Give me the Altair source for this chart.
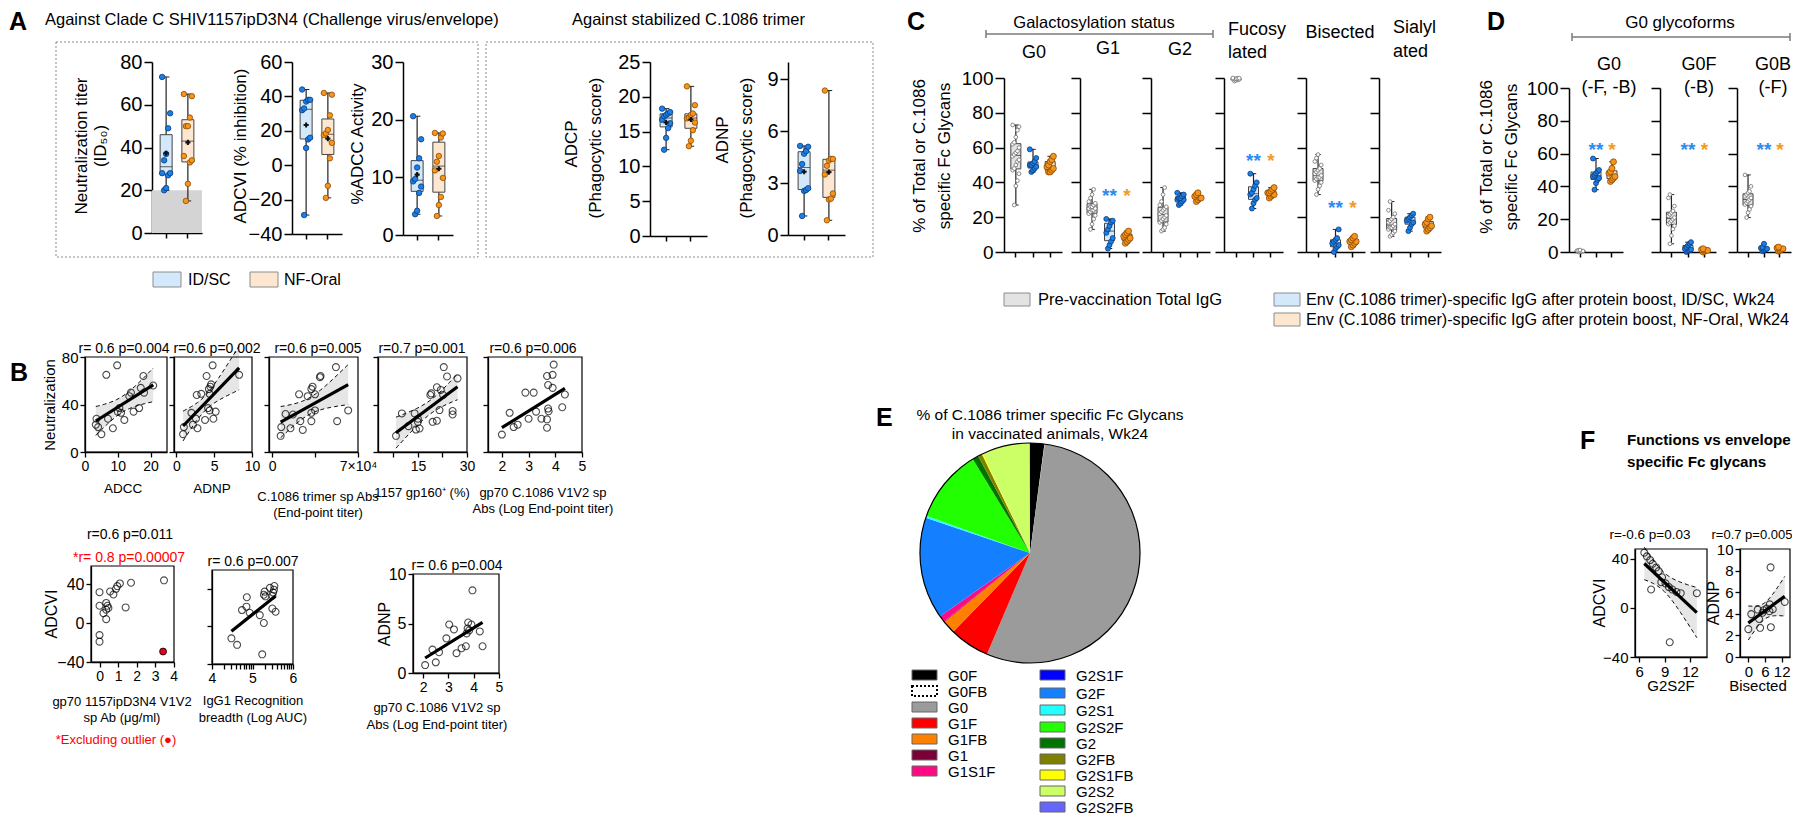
import numpy as np
import pandas as pd
import altair as alt

FONT = "Liberation Sans"
W, H = 1784, 813
ORG = 8


def X(v):
    return v - ORG


def Y(v):
    return v - ORG


# ------------------------------------------------------------------ data
GROUPS2 = ["ID/SC", "NF-Oral"]
GROUPS3 = ["Pre", "ID/SC", "NF-Oral"]

# Panel A (ID/SC, NF-Oral)
neut_id = [20, 21, 27, 28, 28, 34, 37, 49, 56, 73]
neut_nf = [15, 23, 33, 34, 36, 50, 50, 54, 64, 65]
adcvi_id = [-29, 10, 15, 16, 32, 33, 37, 38, 38, 44]
adcvi_nf = [-19, -12, 4, 13, 17.5, 18.5, 20.5, 29, 41, 42]
adcc_id = [3.6, 4.2, 7.3, 8.4, 9.3, 9.7, 11.7, 13.3, 16.6, 20.6]
adcc_nf = [3.3, 5.2, 6.6, 9.9, 11.2, 12.7, 13.7, 16.9, 17.6, 17.7]
adcp_id = [12.4, 14.1, 15.5, 16.2, 16.7, 17.2, 17.4, 17.6, 17.8, 18.3]
adcp_nf = [12.9, 13.7, 15.2, 16.3, 16.9, 17.0, 17.4, 17.6, 18.8, 21.5]
adnp_id = [1.1, 2.55, 2.6, 2.7, 3.7, 4.1, 4.7, 4.85, 5.1, 5.15]
adnp_nf = [0.85, 2.05, 2.1, 2.4, 3.5, 4.0, 4.3, 4.4, 4.4, 8.35]

# Panel C (Pre, ID/SC, NF-Oral)
c_g0 = [[27, 38, 41, 45, 47, 48, 50, 52, 53, 55, 56, 57, 58, 60, 62, 63, 66, 70, 72, 73],
        [46, 47, 48, 49, 50, 50, 51, 52, 54, 59],
        [46, 46, 47, 48, 49, 50, 52, 53, 55]]
c_g1 = [[13, 16, 19, 21, 22, 23, 24, 24, 25, 25, 26, 26, 27, 28, 29, 31, 33, 36],
        [2, 4, 6, 8, 11, 13, 15, 17, 18, 19],
        [5, 6, 7, 8, 9, 10, 11, 12]]
c_g2 = [[12, 13, 14, 16, 17, 18, 19, 20, 21, 22, 23, 24, 25, 26, 27, 29, 33, 37],
        [27, 28, 29, 30, 30, 31, 31, 32, 33, 34],
        [29, 30, 31, 31, 32, 33, 34]]
c_fuc = [[98.2, 98.6, 99.0, 99.2, 99.4, 99.5, 99.6, 99.8, 99.9, 100],
         [25, 28, 30, 31, 33, 34, 36, 38, 40, 45],
         [31, 32, 33, 33, 34, 34, 35, 36, 37]]
c_bis = [[33, 36, 38, 40, 41, 42, 43, 43, 44, 45, 46, 47, 48, 50, 52, 54, 56],
         [0, 2, 3, 4, 5, 6, 7, 8, 13],
         [3, 4, 5, 6, 6, 7, 8, 9]]
c_sia = [[9, 10, 11, 12, 13, 14, 14, 15, 16, 17, 18, 19, 20, 22, 24, 29],
         [12, 14, 16, 17, 18, 19, 20, 21, 22],
         [12, 13, 14, 15, 16, 17, 19, 20]]

# Panel D
d_g0 = [[0, 0.2, 0.4, 0.6, 0.8, 1.0, 1.2],
        [38, 42, 44, 45, 46, 47, 48, 49, 50, 57],
        [43, 44, 45, 46, 48, 49, 51, 55]]
d_g0f = [[5, 10, 14, 16, 17, 18, 19, 20, 21, 22, 23, 24, 25, 28, 33, 35],
         [0, 0.5, 1, 1.5, 2, 3, 4, 5, 6],
         [0, 0.5, 1, 1, 1.5, 2]]
d_g0b = [[21, 24, 26, 28, 29, 30, 31, 32, 33, 34, 35, 36, 37, 40, 47],
         [0.5, 1, 1.5, 2, 2.5, 3, 5],
         [0.5, 1, 1.5, 2, 2.5, 3]]

# Panel B, row 1 (y = neutralization)
b1_x = [3.5, 3.3, 4.0, 5.0, 7.0, 6.5, 8.5, 9.8, 10.0, 10.5, 11.0, 12.0, 13.5, 14.0, 14.8, 16.5, 17.0, 18.0, 17.8, 20.8]
b1_y = [28, 23, 21, 15, 28, 65, 20, 73, 34, 37, 33, 27, 47, 50, 34, 37, 54, 50, 64, 56]
b2_x = [0.9, 1.0, 2.0, 2.2, 2.6, 2.7, 2.8, 3.3, 3.8, 4.0, 4.2, 4.4, 4.4, 4.5, 4.6, 4.8, 4.9, 5.2, 8.3, 4.3]
b2_y = [15, 21, 33, 23, 28, 48, 20, 49, 27, 64, 37, 35, 49, 55, 57, 73, 28, 34, 65, 53]
b3_x = [7000, 7500, 11000, 17000, 15000, 22000, 23000, 25000, 29000, 32000, 33000, 32000, 32000, 35000,
        35000, 39000, 39500, 52000, 53000, 62000]
b3_y = [13.6, 21, 32, 31.6, 20, 48.6, 26, 18.6, 47, 53, 55, 33, 26, 35, 48.6, 63, 64, 71.5, 26, 35]
b4_x = [8.3, 10.1, 12.1, 14.0, 14.4, 15.5, 15.0, 15.0, 18.8, 19.1, 19.5, 20.8, 20.8, 21.6, 22.0, 22.7,
        22.9, 23.9, 25.6, 25.6, 27.1]
b4_y = [13.6, 32.5, 21.8, 32.5, 18.9, 19.8, 25.4, 28, 48, 49.4, 25.4, 26.3, 54.5, 35.3, 52.3, 48, 71.5,
        63.6, 34.5, 31.6, 62]
b5_x = [2.0, 2.29, 2.44, 2.59, 2.88, 3.19, 3.0, 3.28, 3.48, 3.69, 3.69, 3.73, 3.75, 3.73, 3.9, 3.9, 3.94,
        4.26, 4.36, 3.69]
b5_y = [14.7, 33, 21, 23, 50, 50, 28, 34, 28, 27.5, 20.4, 36.6, 34.3, 56.4, 54, 65, 73.6, 37.7, 48.4, 64]

# Panel B, row 2
r1_x = [0, 0, 0, 0, 0.21, 0.36, 0.36, 0.36, 0.43, 0.48, 0.57, 0.75, 0.89, 0.96, 1.1, 1.41, 1.7, 3.48]
r1_y = [32, 18, -12.2, -19, 10.4, 13.9, 4.2, 20.9, 18, 15.7, 32.7, 29.6, 35.5, 38.3, 41, 16.3, 41.7, 44.2]
r1_out_x = [3.43]
r1_out_y = [-29.2]
r2_x = [4.48, 4.62, 4.74, 4.85, 4.86, 4.93, 5.18, 5.28, 5.24, 5.28, 5.30, 5.32, 5.43, 5.49, 5.51, 5.53,
        5.54, 5.49, 5.57]
r2_y = [-12.7, -19.6, 17.4, 21, 31, 14.5, 12, 3.6, -29.7, 33.7, 37, 32, 41, 32.6, 36, 39, 43, 19, 15.6]
r3_x = [2.08, 2.37, 2.5, 2.63, 2.92, 3.03, 3.22, 3.32, 3.52, 3.69, 3.72, 3.76, 3.78, 3.82, 3.91, 3.95,
        4.24, 4.35]
r3_y = [0.8, 2.36, 1.08, 2.1, 3.5, 4.9, 4.4, 2.0, 2.5, 2.7, 4.0, 4.5, 5.1, 4.3, 4.9, 8.35, 4.2, 2.7]

# Panel E
glycans = ["G0F", "G0FB", "G0", "G1F", "G1FB", "G1", "G1S1F", "G2S1F", "G2F", "G2S1", "G2S2F", "G2",
           "G2FB", "G2S1FB", "G2S2", "G2S2FB"]
glycan_pct = [2.1, 0.05, 54.2, 5.9, 1.9, 0.1, 0.9, 0.05, 14.9, 0.3, 10.8, 0.9, 0.6, 0.15, 7.0, 0.05]
glycan_col = ["#000000", "#ffffff", "#9b9b9b", "#ff0000", "#ff8000", "#7a0037", "#ff0a85", "#0000ff",
              "#1480ff", "#22ffff", "#22ff00", "#007300", "#808000", "#ffff00", "#ccff66", "#6666ff"]

# Panel F
fl_x = [6.6, 6.9, 7.3, 7.6, 8.0, 8.3, 8.7, 9.1, 9.5, 9.9, 10.4, 10.9, 7.4, 8.6, 9.6, 12.8]
fl_y = [45, 42, 39, 36, 33, 30, 25, 20, 17, 15, 13, 12, 15, 21, -28, 12]
fr_x = [0, 1.05, 3.4, 3.87, 4.25, 5.1, 5.5, 6.6, 7.6, 7.7, 8.1, 8.8, 13.1, 8.0]
fr_y = [2.58, 3.97, 4.39, 3.52, 2.7, 4.1, 4.33, 4.48, 4.24, 4.88, 2.76, 4.42, 5.1, 8.3]

# ------------------------------------------------------------------ helpers
DUMMY = pd.DataFrame({"d": [0]})
L = []
AX = dict(domainColor="black", tickColor="black", labelColor="black", labelFont=FONT, grid=False, title=None)

BOX_FILL = {"Pre": "#e3e3e3", "ID/SC": "#d3e8fb", "NF-Oral": "#fde7d1"}
PT_FILL = {"Pre": "#ffffff", "ID/SC": "#1b7fe8", "NF-Oral": "#f7941d"}
PT_STROKE = {"Pre": "#6e6e6e", "ID/SC": "#0b3a78", "NF-Oral": "#8c4a00"}


def text(s, x, y, size=15, align="center", weight="normal", color="black", angle=0, baseline="middle"):
    mk = dict(text=s, fontSize=size, align=align, font=FONT, fontWeight=weight, color=color, baseline=baseline)
    if angle:
        mk["angle"] = angle
    L.append(alt.Chart(DUMMY).mark_text(**mk).encode(x=alt.value(X(x)), y=alt.value(Y(y))))


def rect(x0, y0, x1, y1, fill, stroke="#8c8c8c", sw=1.0, dash=None, fop=1.0):
    mk = dict(fill=fill, stroke=stroke, strokeWidth=sw, fillOpacity=fop)
    if dash:
        mk["strokeDash"] = dash
    L.append(alt.Chart(DUMMY).mark_rect(**mk).encode(
        x=alt.value(X(x0)), x2=alt.value(X(x1)), y=alt.value(Y(y0)), y2=alt.value(Y(y1))))


def hrule(x0, x1, y, color="#7a7a7a", sw=1.5):
    L.append(alt.Chart(DUMMY).mark_rule(color=color, strokeWidth=sw).encode(
        x=alt.value(X(x0)), x2=alt.value(X(x1)), y=alt.value(Y(y))))


def vrule(x, y0, y1, color="#7a7a7a", sw=1.5):
    L.append(alt.Chart(DUMMY).mark_rule(color=color, strokeWidth=sw).encode(
        x=alt.value(X(x)), y=alt.value(Y(y0)), y2=alt.value(Y(y1))))


def bracket(x0, x1, y):
    hrule(x0, x1, y)
    vrule(x0, y - 4, y + 4)
    vrule(x1, y - 4, y + 4)


def box_panel(groups, data, x0, x1, ytop, ybot, ydom, yticks, ylabels=True, pad=0.15, bsize=11,
              psize=None, jit=2.0, labsize=19, ticklen=8, mean=False, stars=None, shade=None):
    rows = [{"g": g, "v": v} for g, vs in zip(groups, data) for v in vs]
    df = pd.DataFrame(rows)
    n = len(groups)
    step = (x1 - x0) / (n + 2 * pad)
    xs = alt.Scale(type="band", domain=groups, range=[X(x0), X(x1)], paddingInner=0, paddingOuter=pad)
    ys = alt.Scale(domain=ydom, range=[Y(ybot), Y(ytop)], nice=False, zero=False)
    xaxis = alt.Axis(orient="bottom", offset=Y(ybot) - H, labels=False, tickSize=5, tickWidth=1.5,
                     domainWidth=1.5, **AX)
    yaxis = alt.Axis(orient="left", offset=-X(x0), values=yticks, labels=ylabels, tickSize=ticklen,
                     tickWidth=1.5, domainWidth=1.5, labelFontSize=labsize, labelPadding=2,
                     labelOverlap=False, **AX)
    if shade is not None:
        L.append(alt.Chart(DUMMY).mark_rect(color="#d4d4d4").encode(
            x=alt.value(X(x0)), x2=alt.value(X(x1)),
            y=alt.YDatum(shade[0], type="quantitative", scale=ys, axis=None),
            y2=alt.Y2Datum(shade[1])))
    L.append(alt.Chart(df).mark_boxplot(
        extent="min-max", size=bsize,
        box={"stroke": "#444444", "strokeWidth": 1},
        median={"color": "#222222", "strokeWidth": 1.3},
        rule={"color": "#222222", "strokeWidth": 1.2},
        ticks={"color": "#222222", "size": bsize * 0.55}).encode(
        x=alt.X("g:N", scale=xs, axis=xaxis),
        y=alt.Y("v:Q", scale=ys, axis=yaxis),
        color=alt.Color("g:N", scale=alt.Scale(domain=groups, range=[BOX_FILL[g] for g in groups]),
                        legend=None)))
    if psize is None:
        psize = {g: 30 for g in groups}
    L.append(alt.Chart(df).transform_window(rn="row_number()", groupby=["g"]).transform_calculate(
        j="(datum.rn % 5) - 2").mark_circle(opacity=1, strokeWidth=0.8).encode(
        x=alt.X("g:N", scale=xs, axis=None),
        xOffset=alt.XOffset("j:Q", scale=alt.Scale(domain=[-2, 2],
                                                   range=[step / 2 - 2 * jit, step / 2 + 2 * jit])),
        y=alt.Y("v:Q", scale=ys, axis=None),
        fill=alt.Fill("g:N", scale=alt.Scale(domain=groups, range=[PT_FILL[g] for g in groups]), legend=None),
        stroke=alt.Stroke("g:N", scale=alt.Scale(domain=groups, range=[PT_STROKE[g] for g in groups]),
                          legend=None),
        size=alt.Size("g:N", scale=alt.Scale(domain=groups, range=[psize[g] for g in groups]), legend=None)))
    if mean:
        L.append(alt.Chart(df).mark_point(shape="cross", size=26, filled=True, color="#111111").encode(
            x=alt.X("g:N", scale=xs, axis=None),
            y=alt.Y("mean(v):Q", scale=ys, axis=None)))
    if stars is not None:
        sdf = pd.DataFrame([{"g": "ID/SC", "y": stars, "t": "**", "c": "#2b8cf0"},
                            {"g": "NF-Oral", "y": stars, "t": "*", "c": "#f59a23"}])
        L.append(alt.Chart(sdf).mark_text(fontSize=19, font=FONT, fontWeight="bold", baseline="middle",
                                           dy=5).encode(
            x=alt.X("g:N", scale=xs, axis=None),
            y=alt.Y("y:Q", scale=ys, axis=None),
            text="t:N",
            color=alt.Color("c:N", scale=None)))


T_TABLE = {10: 2.228, 11: 2.201, 12: 2.179, 13: 2.160, 14: 2.145, 15: 2.131, 16: 2.120, 17: 2.110,
           18: 2.101, 19: 2.093, 20: 2.086}


def ci_band(xv, yv, n=40):
    x = np.asarray(xv, float)
    y = np.asarray(yv, float)
    nn = len(x)
    b, a = np.polyfit(x, y, 1)
    s = np.sqrt(np.sum((y - (a + b * x)) ** 2) / (nn - 2))
    xm = x.mean()
    sxx = np.sum((x - xm) ** 2)
    t = T_TABLE.get(nn - 2, 2.1)
    xg = np.linspace(x.min(), x.max(), n)
    se = s * np.sqrt(1.0 / nn + (xg - xm) ** 2 / sxx)
    fit = a + b * xg
    return pd.DataFrame({"xg": xg, "lo": fit - t * se, "hi": fit + t * se})


def scatter(xv, yv, x0, x1, ytop, ybot, xdom, ydom, xticks, yticks, ylabels=True, xexpr=None,
            line=True, band=True, labsize=14, ylabsize=15, psize=48, red=None):
    df = pd.DataFrame({"x": xv, "y": yv})
    xs = alt.Scale(domain=xdom, range=[X(x0), X(x1)], nice=False, zero=False)
    ys = alt.Scale(domain=ydom, range=[Y(ybot), Y(ytop)], nice=False, zero=False)
    xa = dict(AX, orient="bottom", offset=Y(ybot) - H, values=xticks, labelFontSize=labsize, tickSize=5,
              tickWidth=1.3, domainWidth=1.3, labelPadding=2, labelFlush=False, labelOverlap=False)
    if xexpr:
        xa["labelExpr"] = xexpr
    ya = dict(AX, orient="left", offset=-X(x0), values=yticks, labels=ylabels, labelFontSize=ylabsize,
              tickSize=5, tickWidth=1.3, domainWidth=1.3, labelPadding=2, labelOverlap=False)
    if band:
        bdf = ci_band(xv, yv)
        L.append(alt.Chart(bdf).mark_area(color="#e6e6e6").encode(
            x=alt.X("xg:Q", scale=xs, axis=None), y=alt.Y("lo:Q", scale=ys, axis=None), y2="hi:Q"))
        for f in ["lo", "hi"]:
            L.append(alt.Chart(bdf).mark_line(color="black", strokeWidth=1, strokeDash=[4, 3]).encode(
                x=alt.X("xg:Q", scale=xs, axis=None), y=alt.Y(f + ":Q", scale=ys, axis=None)))
    L.append(alt.Chart(DUMMY).mark_rect(fillOpacity=0, stroke="black", strokeWidth=1.2).encode(
        x=alt.XDatum(xdom[0], type="quantitative", scale=xs, axis=None),
        x2=alt.X2Datum(xdom[1]),
        y=alt.YDatum(ydom[0], type="quantitative", scale=ys, axis=None),
        y2=alt.Y2Datum(ydom[1])))
    L.append(alt.Chart(df).mark_point(filled=False, color="black", size=psize, strokeWidth=1.1).encode(
        x=alt.X("x:Q", scale=xs, axis=alt.Axis(**xa)),
        y=alt.Y("y:Q", scale=ys, axis=alt.Axis(**ya))))
    if line:
        L.append(alt.Chart(df).transform_regression("x", "y").mark_line(color="black", strokeWidth=3.2).encode(
            x=alt.X("x:Q", scale=xs, axis=None), y=alt.Y("y:Q", scale=ys, axis=None)))
    if red is not None:
        rdf = pd.DataFrame({"x": red[0], "y": red[1]})
        L.append(alt.Chart(rdf).mark_point(filled=True, fill="#e8001c", stroke="black", strokeWidth=0.8,
                                           size=psize, opacity=1).encode(
            x=alt.X("x:Q", scale=xs, axis=None), y=alt.Y("y:Q", scale=ys, axis=None)))


# ------------------------------------------------------------------ Panel A
text("A", 9, 22, 25, "left", "bold")
text("Against Clade C SHIV1157ipD3N4 (Challenge virus/envelope)", 45, 20, 16.5, "left")
text("Against stabilized C.1086 trimer", 572, 20, 16.5, "left")
rect(56, 42, 478, 257, "#ffffff", stroke="#8a8a8a", sw=1, dash=[2, 2], fop=0)
rect(486, 42, 873, 257, "#ffffff", stroke="#8a8a8a", sw=1, dash=[2, 2], fop=0)

box_panel(GROUPS2, [neut_id, neut_nf], 152, 202, 62, 233, [0, 80], [0, 20, 40, 60, 80], mean=True,
          shade=(0, 20), labsize=20, bsize=12)
box_panel(GROUPS2, [adcvi_id, adcvi_nf], 292, 342, 62, 234, [-40, 60], [-40, -20, 0, 20, 40, 60], mean=True,
          labsize=20, bsize=12)
box_panel(GROUPS2, [adcc_id, adcc_nf], 403, 453, 62, 235, [0, 30], [0, 10, 20, 30], mean=True, labsize=20,
          bsize=12)
box_panel(GROUPS2, [adcp_id, adcp_nf], 650, 707, 62, 236, [0, 25], [0, 5, 10, 15, 20, 25], mean=True,
          labsize=20, bsize=12)
box_panel(GROUPS2, [adnp_id, adnp_nf], 788, 845, 62, 235, [0, 10], [0, 3, 6, 9], mean=True, labsize=20,
          bsize=12)

text("Neutralization titer", 82, 146, 17, angle=270)
text("(ID₅₀)", 101, 146, 17, angle=270)
text("ADCVI  (% inhibition)", 241, 146, 17, angle=270)
text("%ADCC Activity", 358, 144, 17, angle=270)
text("ADCP", 572, 144, 17, angle=270)
text("(Phagocytic score)", 596, 148, 17, angle=270)
text("ADNP", 723, 140, 17, angle=270)
text("(Phagocytic score)", 747, 148, 17, angle=270)

rect(153, 272, 181, 287, BOX_FILL["ID/SC"])
text("ID/SC", 188, 280, 16, "left")
rect(250, 272, 278, 287, BOX_FILL["NF-Oral"])
text("NF-Oral", 284, 280, 16, "left")

# ------------------------------------------------------------------ Panel C
text("C", 907, 22, 25, "left", "bold")
text("Galactosylation status", 1094, 23, 16.5)
bracket(986, 1213, 34)
text("G0", 1034, 53, 18)
text("G1", 1108, 49, 18)
text("G2", 1180, 50, 18)
text("Fucosy", 1228, 30, 18, "left")
text("lated", 1228, 53, 18, "left")
text("Bisected", 1340, 33, 18)
text("Sialyl", 1393, 28, 18, "left")
text("ated", 1393, 52, 18, "left")
text("% of Total or C.1086", 920, 156, 17, angle=270)
text("specific Fc Glycans", 945, 156, 17, angle=270)

CPS = {"Pre": 14, "ID/SC": 36, "NF-Oral": 36}
YT100 = [0, 20, 40, 60, 80, 100]
c_specs = [(c_g0, 1004, 1062, None, True), (c_g1, 1080, 1139, 35, False), (c_g2, 1151, 1210, None, False),
           (c_fuc, 1224, 1283, 55, False), (c_bis, 1306, 1365, 28, False), (c_sia, 1379, 1441, None, False)]
for dat, a0, a1, st, lab in c_specs:
    box_panel(GROUPS3, dat, a0, a1, 78, 252, [0, 100], YT100, ylabels=lab, pad=0.19, bsize=10, psize=CPS,
              jit=1.6, labsize=19, ticklen=9, stars=st)

rect(1004, 293, 1030, 306, BOX_FILL["Pre"])
text("Pre-vaccination Total IgG", 1038, 300, 16.5, "left")
rect(1274, 293, 1300, 306, BOX_FILL["ID/SC"])
text("Env (C.1086 trimer)-specific IgG after protein boost, ID/SC, Wk24", 1306, 300, 16.2, "left")
rect(1274, 313, 1300, 326, BOX_FILL["NF-Oral"])
text("Env (C.1086 trimer)-specific IgG after protein boost, NF-Oral, Wk24", 1306, 320, 16.2, "left")

# ------------------------------------------------------------------ Panel D
text("D", 1487, 22, 25, "left", "bold")
text("G0 glycoforms", 1680, 23, 17)
bracket(1572, 1790, 37)
text("G0", 1609, 65, 18)
text("(-F, -B)", 1609, 88, 18)
text("G0F", 1699, 65, 18)
text("(-B)", 1699, 88, 18)
text("G0B", 1773, 65, 18)
text("(-F)", 1773, 88, 18)
text("% of Total or C.1086", 1487, 157, 17, angle=270)
text("specific Fc Glycans", 1512, 157, 17, angle=270)
d_specs = [(d_g0, 1569, 1623, True), (d_g0f, 1660, 1716, False), (d_g0b, 1737, 1791, False)]
for dat, a0, a1, lab in d_specs:
    box_panel(GROUPS3, dat, a0, a1, 88, 252, [0, 100], YT100, ylabels=lab, pad=0.19, bsize=10, psize=CPS,
              jit=1.5, labsize=19, ticklen=9, stars=65)

# ------------------------------------------------------------------ Panel B
text("B", 10, 373, 25, "left", "bold")
text("Neutralization", 50, 405, 15, angle=270)
YN = [0, 40, 80]
scatter(b1_x, b1_y, 85, 167, 357, 452, [0, 25], [0, 80], [0, 10, 20], YN)
scatter(b2_x, b2_y, 174, 252, 357, 452, [-0.3, 10], [0, 80], [0, 5, 10], YN, ylabels=False)
scatter(b3_x, b3_y, 269, 358, 357, 452, [-2500, 70000], [0, 80], [0, 35000, 70000], YN, ylabels=False,
        xexpr="datum.value == 0 ? '0' : (datum.value == 70000 ? '7×10⁴' : '')")
scatter(b4_x, b4_y, 378, 467, 357, 452, [2.8, 30], [0, 80], [7.5, 15, 22.5, 30], YN, ylabels=False,
        xexpr="(datum.value == 15 || datum.value == 30) ? datum.label : ''")
scatter(b5_x, b5_y, 488, 582, 357, 452, [1.48, 5], [0, 80], [2, 3, 4, 5], YN, ylabels=False, band=False)

text("r= 0.6  p=0.004", 124, 349, 14)
text("r=0.6  p=0.002", 217, 349, 14)
text("r=0.6  p=0.005", 318, 349, 14)
text("r=0.7  p=0.001", 422, 349, 14)
text("r=0.6      p=0.006", 533, 349, 14)
text("ADCC", 123, 489, 13.5)
text("ADNP", 212, 489, 13.5)
text("C.1086 trimer sp Abs", 318, 497, 13)
text("(End-point titer)", 318, 513, 13)
text("1157 gp160⁺ (%)", 422, 493, 13)
text("gp70 C.1086 V1V2 sp", 543, 493, 13)
text("Abs (Log End-point titer)", 543, 509, 13)

# row 2
log_ticks = [4.0] + [4 + np.log10(k) for k in range(2, 10)] + [5.0] + [5 + np.log10(k) for k in range(2, 10)] + [6.0]
scatter(r1_x, r1_y, 91, 174, 566, 662, [-0.46, 4.02], [-40, 59], [0, 1, 2, 3, 4], [-40, 0, 40],
        line=False, band=False, red=(r1_out_x, r1_out_y), ylabsize=16)
scatter(r2_x, r2_y, 212, 293, 570, 664, [4, 6], [-40, 60], log_ticks, [-40, 0, 40], ylabels=False,
        band=False, xexpr="abs(datum.value - round(datum.value)) < 0.001 ? format(datum.value, 'd') : ''")
scatter(r3_x, r3_y, 413, 499, 574, 673, [1.6, 5], [0, 10], [2, 3, 4, 5], [0, 5, 10], band=False,
        ylabsize=16)

text("r=0.6   p=0.011", 130, 535, 14)
text("*r= 0.8  p=0.00007", 129, 558, 14, color="#ff0000")
text("ADCVI", 52, 614, 16, angle=270)
text("gp70 1157ipD3N4 V1V2", 122, 702, 13)
text("sp Ab (μg/ml)", 122, 718, 13)
text("*Excluding outlier (●)", 116, 740, 13, color="#ff0000")
text("r= 0.6     p=0.007", 253, 562, 14)
text("IgG1 Recognition", 253, 701, 13)
text("breadth (Log AUC)", 253, 718, 13)
text("r= 0.6     p=0.004", 457, 566, 14)
text("ADNP", 385, 624, 16, angle=270)
text("gp70 C.1086 V1V2 sp", 437, 708, 13)
text("Abs (Log End-point titer)", 437, 725, 13)

# ------------------------------------------------------------------ Panel E
text("E", 876, 418, 25, "left", "bold")
text("% of C.1086 trimer specific Fc Glycans", 1050, 415, 15.5)
text("in vaccinated animals, Wk24", 1050, 434, 15.5)
PCX, PCY, PR = 1030, 553, 110
pie_df = pd.DataFrame({"name": glycans, "pct": glycan_pct, "idx": list(range(len(glycans)))})
L.append(alt.Chart(pie_df).mark_arc(radius=PR).encode(
    theta=alt.Theta("pct:Q", stack=True),
    color=alt.Color("name:N", scale=alt.Scale(domain=glycans, range=glycan_col), legend=None),
    order=alt.Order("idx:Q"),
    x=alt.value(X(PCX)), y=alt.value(Y(PCY))))
L.append(alt.Chart(DUMMY).mark_arc(radius=PR, theta=0, theta2=6.2832, fillOpacity=0, stroke="black",
                                   strokeWidth=1.2).encode(x=alt.value(X(PCX)), y=alt.value(Y(PCY))))

col1_y = [675, 691, 707, 723, 739, 755, 771]
col2_y = [675, 693, 710, 727, 743, 759, 775, 791, 807]
for i, nm in enumerate(glycans):
    if i < 7:
        sx, sy, tx = 912, col1_y[i], 948
    else:
        sx, sy, tx = 1040, col2_y[i - 7], 1076
    if nm == "G0FB":
        rect(sx, sy - 5, sx + 25, sy + 5, "#ffffff", stroke="black", sw=2, dash=[2, 2])
    else:
        rect(sx, sy - 5, sx + 25, sy + 5, glycan_col[i], stroke="#666666", sw=1)
    text(nm, tx, sy + 1, 15, "left")

# ------------------------------------------------------------------ Panel F
text("F", 1580, 441, 25, "left", "bold")
text("Functions vs  envelope", 1627, 440, 15.2, "left", "bold")
text("specific Fc glycans", 1627, 462, 15.2, "left", "bold")
scatter(fl_x, fl_y, 1635, 1707, 549, 657, [5.5, 14], [-40, 48], [6, 9, 12], [-40, 0, 40], labsize=15,
        ylabsize=15)
scatter(fr_x, fr_y, 1740, 1790, 549, 657, [-3, 15], [0, 10], [0, 6, 12], [0, 2, 4, 6, 8, 10], labsize=15,
        ylabsize=15)
text("r=-0.6      p=0.03", 1650, 535, 13.5)
text("r=0.7  p=0.005", 1752, 535, 13)
text("ADCVI", 1600, 603, 16, angle=270)
text("ADNP", 1714, 603, 16, angle=270)
text("G2S2F", 1671, 686, 15)
text("Bisected", 1758, 686, 15)

# ------------------------------------------------------------------ assemble
chart = alt.layer(*L).resolve_scale(
    x="independent", y="independent", color="independent", fill="independent", stroke="independent",
    size="independent", theta="independent", xOffset="independent"
).resolve_axis(x="independent", y="independent").properties(
    width=W, height=H, autosize=alt.AutoSizeParams(type="none"), padding=0, background="white"
).configure_view(stroke=None).configure_axis(labelFont=FONT, grid=False)

chart.save("out.html", embed_options={"renderer": "svg", "actions": False})
